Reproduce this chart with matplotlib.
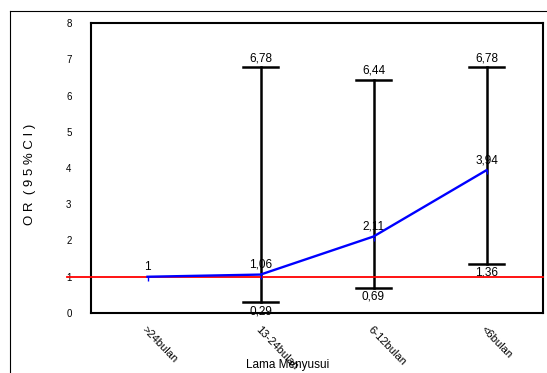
import matplotlib.pyplot as plt
from matplotlib.lines import Line2D

plt.rcParams['font.family'] = ['Liberation Sans', 'DejaVu Sans']

# data
kategori = ['>24bulan', '13-24bulan', '6-12bulan', '<6bulan']
OR = [1, 1.06, 2.11, 3.94]
ci_bawah = [None, 0.29, 0.69, 1.36]
ci_atas = [None, 6.78, 6.44, 6.78]
label_or = ['1', '1,06', '2,11', '3,94']
label_bawah = ['', '0,29', '0,69', '1,36']
label_atas = ['', '6,78', '6,44', '6,78']

fig = plt.figure(figsize=(5.47, 3.73), dpi=100)
ax = fig.add_axes([91 / 547, 1 - 313 / 373, 452 / 547, 290 / 373])

x = list(range(len(kategori)))

# error bars (only categories with CI)
xe = [i for i in x if ci_bawah[i] is not None]
for i in xe:
    ax.plot([i, i], [ci_bawah[i], ci_atas[i]], color='black', lw=1.8, zorder=2)
    for yv in (ci_bawah[i], ci_atas[i]):
        ax.plot([i - 0.155, i + 0.155], [yv, yv], color='black', lw=1.8, zorder=2)
    ax.text(i, ci_atas[i] + 0.08, label_atas[i], ha='center', va='bottom', fontsize=8.5)
    ax.text(i, ci_bawah[i] - 0.08, label_bawah[i], ha='center', va='top', fontsize=8.5)

# garis referensi OR = 1
ax.axhline(1, xmin=-24 / 452, xmax=1, color='red', lw=1.3, clip_on=False, zorder=3)

# garis OR
ax.plot(x, OR, color='#0000ff', lw=1.7, marker=3, markersize=3,
        markeredgewidth=1, zorder=4)
for i in x:
    ax.text(i, OR[i] + 0.1, label_or[i], ha='center', va='bottom', fontsize=8.5)

ax.set_xlim(-0.5, 3.5)
ax.set_ylim(0, 8)
ax.set_yticks(range(0, 9))
ax.tick_params(axis='y', length=0, pad=14, labelsize=7)
ax.set_xticks(x)
ax.set_xticklabels(kategori, rotation=-46, ha='left', va='top',
                   rotation_mode='anchor', fontsize=8)
ax.tick_params(axis='x', length=0, pad=8)
for s in ax.spines.values():
    s.set_linewidth(1.5)

fig.text(30 / 547, 1 - 174 / 373, 'O R  ( 9 5 % C I )', rotation=90,
         ha='center', va='center', fontsize=9.5)
fig.text(288 / 547, 1 - 365 / 373, 'Lama Menyusui', ha='center', va='center',
         fontsize=8.5)

# bingkai luar
fig.add_artist(Line2D([10 / 547, 1], [1 - 11 / 373, 1 - 11 / 373],
                      transform=fig.transFigure, color='black', lw=0.8))
fig.add_artist(Line2D([10 / 547, 10 / 547], [0, 1 - 11 / 373],
                      transform=fig.transFigure, color='black', lw=0.8))

fig.savefig('out.png', dpi=100)
